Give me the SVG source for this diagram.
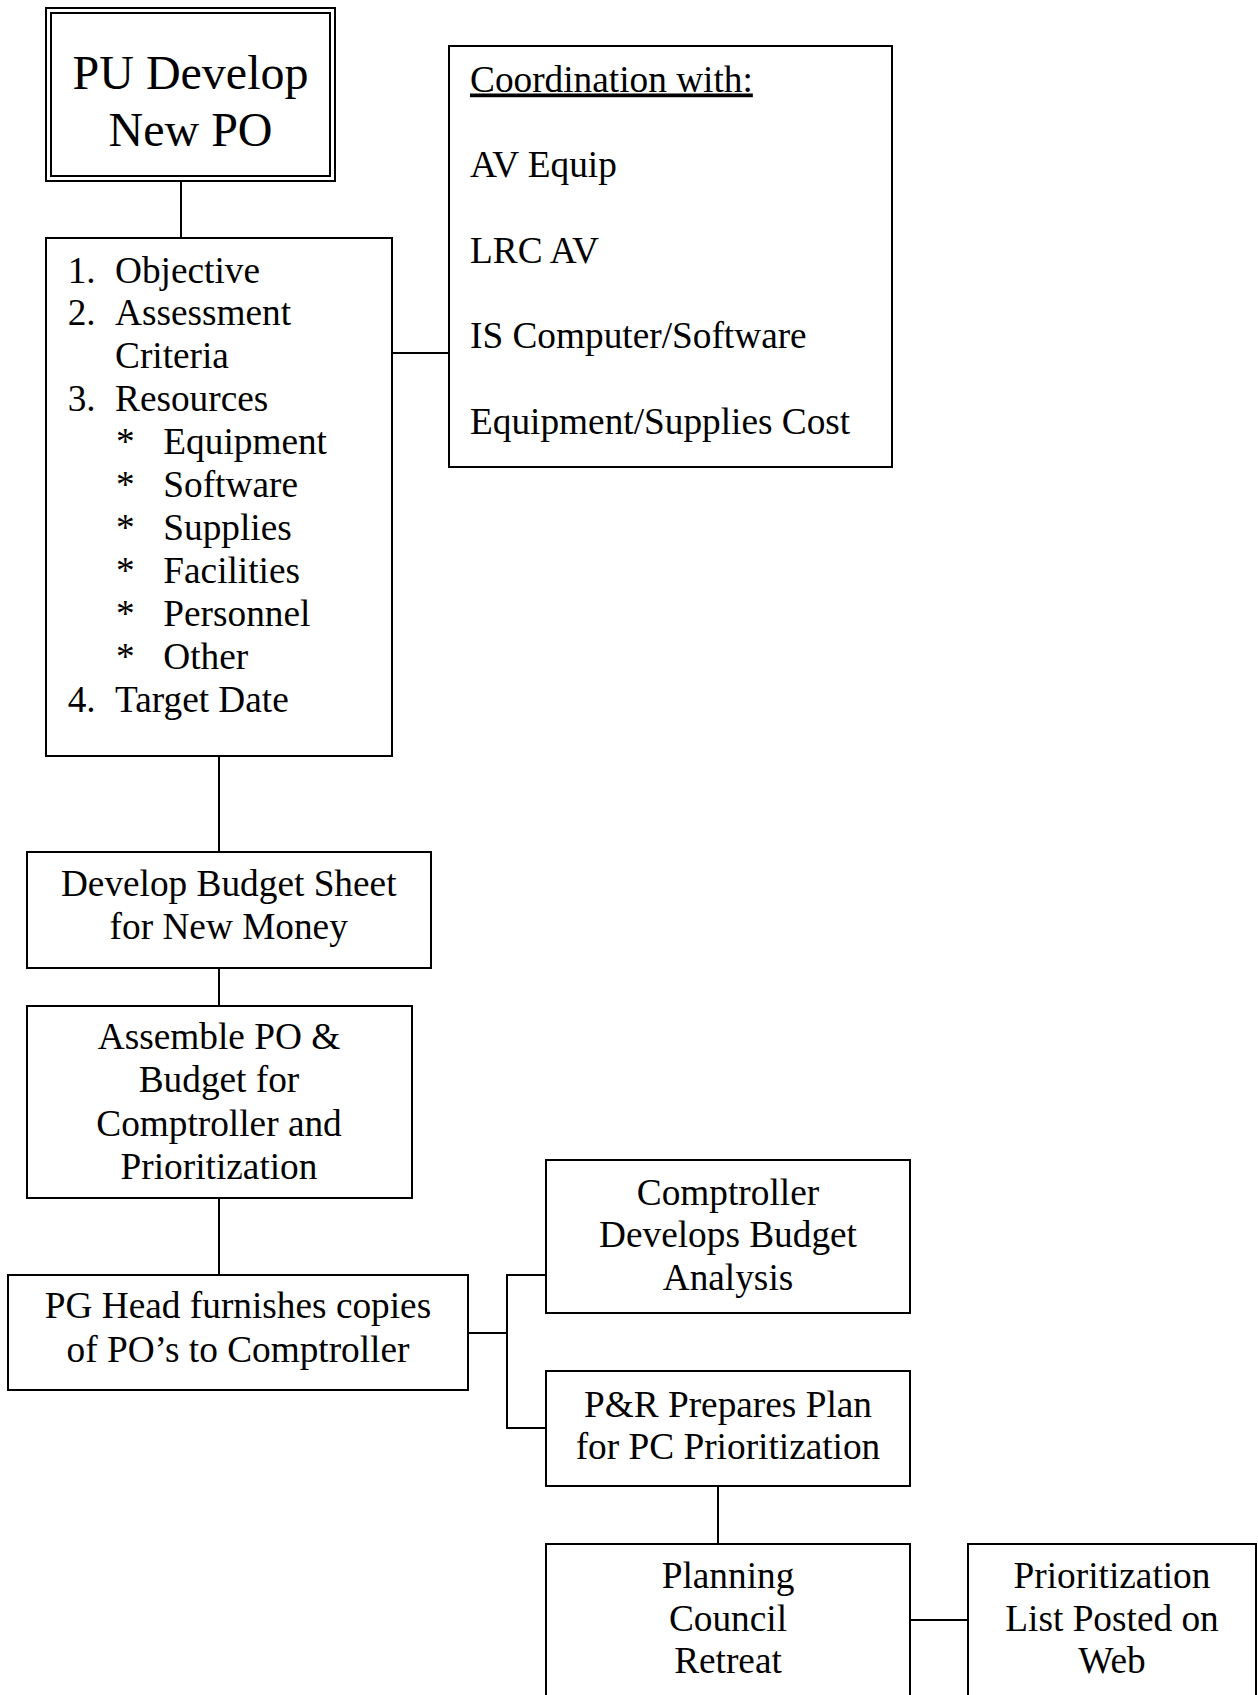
<svg xmlns="http://www.w3.org/2000/svg" width="1258" height="1695" viewBox="0 0 1258 1695">
<style>
.box{fill:#fff;stroke:#000;stroke-width:2}
.dbl{fill:none;stroke:#000;stroke-width:2}
.conn{fill:none;stroke:#000;stroke-width:2}
text{font-family:"Liberation Serif","Times New Roman",serif;font-size:37.3px;fill:#000}
.c{text-anchor:middle}
.big{font-size:48px}
</style>
<rect width="1258" height="1695" fill="#fff"/>
<g id="connectors">
<path class="conn" d="M181,181 V238"/>
<path class="conn" d="M392,353 H449"/>
<path class="conn" d="M219,756 V852"/>
<path class="conn" d="M219,968 V1006"/>
<path class="conn" d="M219,1198 V1275"/>
<path class="conn" d="M468,1333 H507"/>
<path class="conn" d="M546,1275 H507 V1428 H546"/>
<path class="conn" d="M718,1486 V1544"/>
<path class="conn" d="M910,1620 H968"/>
</g>
<g id="pu-develop">
<rect class="box" x="46" y="8" width="289" height="173"/>
<rect class="dbl" x="51" y="13" width="279" height="163"/>
<text class="c big" x="190.5" y="89">PU Develop</text>
<text class="c big" x="190.5" y="146">New PO</text>
</g>
<g id="po-list">
<rect class="box" x="46" y="238" width="346" height="518"/>
<text x="67.7" y="282.5">1.</text><text x="115" y="282.5">Objective</text>
<text x="67.7" y="325.4">2.</text><text x="115" y="325.4">Assessment</text>
<text x="115" y="368.3">Criteria</text>
<text x="67.7" y="411.2">3.</text><text x="115" y="411.2">Resources</text>
<text x="116" y="454.1">*</text><text x="163.3" y="454.1">Equipment</text>
<text x="116" y="497">*</text><text x="163.3" y="497">Software</text>
<text x="116" y="539.9">*</text><text x="163.3" y="539.9">Supplies</text>
<text x="116" y="582.8">*</text><text x="163.3" y="582.8">Facilities</text>
<text x="116" y="625.7">*</text><text x="163.3" y="625.7">Personnel</text>
<text x="116" y="668.6">*</text><text x="163.3" y="668.6">Other</text>
<text x="67.7" y="711.5">4.</text><text x="115" y="711.5">Target Date</text>
</g>
<g id="coordination">
<rect class="box" x="449" y="46" width="443" height="421"/>
<text x="470" y="91.5" text-decoration="underline">Coordination with:</text>
<text x="470" y="177">AV Equip</text>
<text x="470" y="262.5">LRC AV</text>
<text x="470" y="348">IS Computer/Software</text>
<text x="470" y="433.5">Equipment/Supplies Cost</text>
</g>
<g id="budget-sheet">
<rect class="box" x="27" y="852" width="404" height="116"/>
<text class="c" x="228.7" y="896">Develop Budget Sheet</text>
<text class="c" x="228.7" y="939">for New Money</text>
</g>
<g id="assemble">
<rect class="box" x="27" y="1006" width="385" height="192"/>
<text class="c" x="219" y="1049">Assemble PO &amp;</text>
<text class="c" x="219" y="1092">Budget for</text>
<text class="c" x="219" y="1136">Comptroller and</text>
<text class="c" x="219" y="1179">Prioritization</text>
</g>
<g id="pg-head">
<rect class="box" x="8" y="1275" width="460" height="115"/>
<text class="c" x="238" y="1318">PG Head furnishes copies</text>
<text class="c" x="238" y="1362">of PO’s to Comptroller</text>
</g>
<g id="comptroller">
<rect class="box" x="546" y="1160" width="364" height="153"/>
<text class="c" x="728" y="1205">Comptroller</text>
<text class="c" x="728" y="1247">Develops Budget</text>
<text class="c" x="728" y="1290">Analysis</text>
</g>
<g id="pr-plan">
<rect class="box" x="546" y="1371" width="364" height="115"/>
<text class="c" x="728" y="1417">P&amp;R Prepares Plan</text>
<text class="c" x="728" y="1459">for PC Prioritization</text>
</g>
<g id="planning-council">
<rect class="box" x="546" y="1544" width="364" height="170"/>
<text class="c" x="728" y="1588">Planning</text>
<text class="c" x="728" y="1631">Council</text>
<text class="c" x="728" y="1673">Retreat</text>
</g>
<g id="prioritization-list">
<rect class="box" x="968" y="1544" width="288" height="170"/>
<text class="c" x="1112" y="1588">Prioritization</text>
<text class="c" x="1112" y="1631">List Posted on</text>
<text class="c" x="1112" y="1673">Web</text>
</g>
</svg>
